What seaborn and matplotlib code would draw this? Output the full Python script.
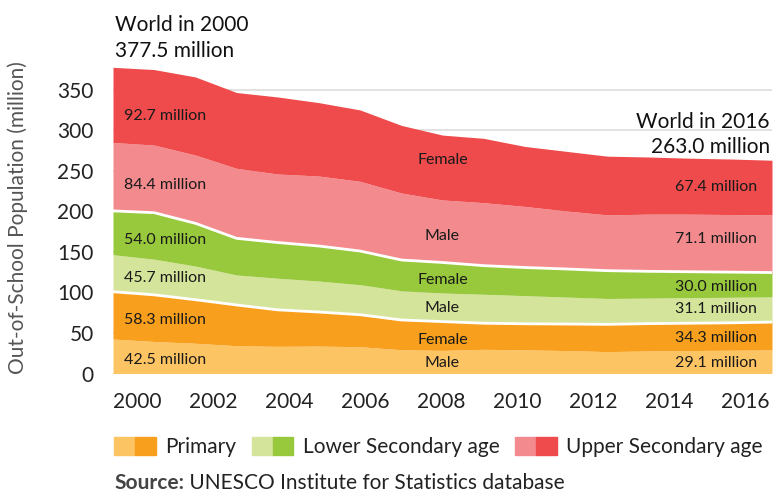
import numpy as np
import matplotlib
matplotlib.use("Agg")
import matplotlib.pyplot as plt
from matplotlib.patches import Patch
from matplotlib.legend_handler import HandlerTuple
import seaborn as sns

# out-of-school population, millions
years = list(range(2000, 2017))
primary_male = [42.5, 39.5, 37.3, 34.3, 33.5, 33.8, 33.0, 29.3, 28.5, 29.8, 29.2, 28.3, 27.0, 27.8, 28.3, 28.7, 29.1]
primary_female = [58.3, 57.5, 53.7, 50.2, 45.0, 42.0, 39.5, 36.7, 35.5, 32.2, 32.1, 32.7, 33.6, 33.7, 33.7, 33.8, 34.3]
lower_male = [45.7, 44.0, 41.5, 37.0, 39.0, 38.2, 37.0, 36.0, 35.3, 35.7, 34.7, 33.3, 31.9, 31.5, 31.5, 31.5, 31.1]
lower_female = [54.0, 57.3, 52.7, 45.2, 44.0, 43.2, 41.5, 38.0, 37.6, 35.3, 34.7, 34.6, 34.3, 33.0, 32.0, 31.0, 30.0]
upper_male = [84.4, 83.4, 84.2, 86.3, 84.5, 86.3, 86.0, 82.6, 77.1, 77.7, 75.3, 71.6, 68.8, 70.5, 71.0, 71.0, 71.1]
upper_female = [92.7, 93.1, 96.3, 93.5, 95.0, 90.5, 88.0, 83.4, 80.0, 79.3, 74.0, 73.5, 72.4, 70.5, 69.0, 68.5, 67.4]

world_2000 = 377.5
world_2016 = 263.0

groups = ["Primary", "Lower Secondary age", "Upper Secondary age"]
sexes = ["Male", "Female"]
year_ticks = [2000, 2002, 2004, 2006, 2008, 2010, 2012, 2014, 2016]
y_ticks = [0, 50, 100, 150, 200, 250, 300, 350]

colors = ["#fdc463", "#f8a01d", "#d4e59b", "#98c83b", "#f38b8e", "#ef4b4c"]

sns.set_theme(style="white")
plt.rcParams["font.family"] = ["Lato", "DejaVu Sans"]

fig = plt.figure(figsize=(7.76, 4.94), dpi=100)
ax = fig.add_axes([113 / 776, 120.5 / 494, 659 / 776, 312.2 / 494])

layers = [primary_male, primary_female, lower_male, lower_female, upper_male, upper_female]
ax.stackplot(years, *layers, colors=colors, lw=0, zorder=2)

# white separators between the three age groups
cum = np.cumsum(np.array(layers), axis=0)
sns.lineplot(x=years, y=cum[1], color="white", lw=2, ax=ax, zorder=3)
sns.lineplot(x=years, y=cum[3], color="white", lw=2, ax=ax, zorder=3)

ax.set_xlim(2000, 2016)
ax.set_ylim(0, 385)
ax.set_yticks(y_ticks)
# the source graphic spaces its year labels a bit tighter than the data
ax.set_xticks(np.linspace(2000.6, 2015.35, len(year_ticks)))
ax.set_xticklabels([str(y) for y in year_ticks])
ax.tick_params(axis="both", length=0, labelsize=15, colors="#222222")
ax.tick_params(axis="y", pad=14)
ax.tick_params(axis="x", pad=13)
ax.yaxis.grid(True, color="#dddddd", lw=1.2)
ax.set_axisbelow(True)
sns.despine(ax=ax, left=True, bottom=True)

fig.text(18 / 776, 1 - 218 / 494, "Out-of-School Population (million)", rotation=90,
         ha="center", va="center", fontsize=15, color="#555555")

# value labels at both ends, sex labels in the middle
left_y = [16.6, 66, 117.8, 164.6, 232.4, 317]
right_y = [13.3, 44.2, 79.1, 107, 165.5, 230.3]
mid_y = [12.5, 41.3, 80.8, 115.9, 169.5, 262.8]
for i, vals in enumerate(layers):
    ax.text(2000.27, left_y[i], f"{vals[0]:.1f} million", fontsize=11.5, color="#1a1a1a",
            ha="left", va="center", zorder=5)
    ax.text(2015.63, right_y[i], f"{vals[-1]:.1f} million", fontsize=11.5, color="#1a1a1a",
            ha="right", va="center", zorder=5)
    ax.text(2008.0, mid_y[i], sexes[i % 2], fontsize=11.5, color="#1a1a1a",
            ha="center", va="center", zorder=5)

ax.text(2000.05, 430, "World in 2000", fontsize=15, color="#111111", ha="left", va="center")
ax.text(2000.05, 398, f"{world_2000:.1f} million", fontsize=15, color="#111111", ha="left", va="center")
ax.text(2015.95, 310, "World in 2016", fontsize=15, color="#111111", ha="right", va="center")
ax.text(2015.95, 279, f"{world_2016:.1f} million", fontsize=15, color="#111111", ha="right", va="center")

handles = [(Patch(color=colors[2 * k]), Patch(color=colors[2 * k + 1])) for k in range(3)]
fig.legend(handles, groups, handler_map={tuple: HandlerTuple(ndivide=None, pad=0)},
           loc="center left", bbox_to_anchor=(114 / 776, 1 - 447 / 494), ncol=3,
           frameon=False, fontsize=15, handlelength=2.0, handleheight=0.92,
           handletextpad=0.45, columnspacing=0.75, borderpad=0, borderaxespad=0,
           labelcolor="#222222")

src = fig.text(114 / 776, 1 - 489 / 494, "Source:", fontsize=15, fontweight="bold",
               color="#444444", ha="left", va="baseline")
ax.annotate(" UNESCO Institute for Statistics database", xy=(1, 0), xycoords=src,
            fontsize=15, color="#222222", ha="left", va="bottom", annotation_clip=False)

fig.savefig("out.png", dpi=100)
